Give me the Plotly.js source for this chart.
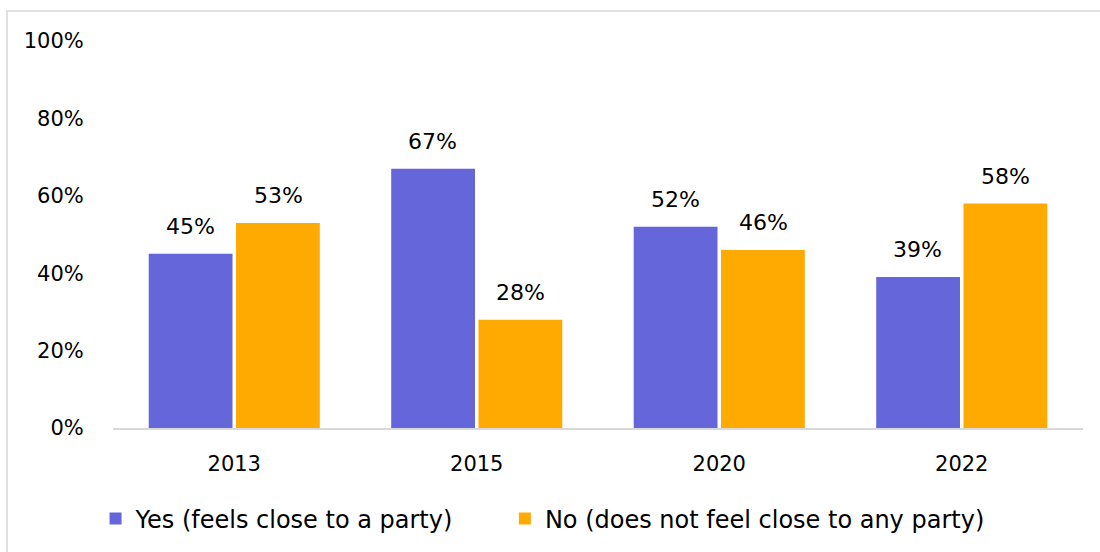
<!DOCTYPE html>
<html>
<head>
<meta charset="utf-8">
<script src="https://cdn.plot.ly/plotly-3.0.1.min.js"></script>
<style>
  html, body { margin: 0; padding: 0; background: #fff; }
  #wrap { position: relative; width: 1100px; height: 552px; overflow: hidden; }
  #frame { position: absolute; left: 6px; top: 10px; width: 1200px; height: 700px; border: 2px solid #e0e0e0; box-sizing: border-box; }
  #chart { position: absolute; left: 0; top: 0; width: 1100px; height: 552px; }
</style>
</head>
<body>
<div id="wrap">
  <div id="frame"></div>
  <div id="chart"></div>
</div>
<script>
const years = ['2013', '2015', '2020', '2022'];
const yesValues = [45, 67, 52, 39];
const noValues = [53, 28, 46, 58];
const yesName = 'Yes (feels close to a party)';
const noName = 'No (does not feel close to any party)';
const yTickVals = [0, 20, 40, 60, 80, 100];
const yTickText = ['0%', '20%', '40%', '60%', '80%', '100%'];

const FONT = 'Century Gothic, DejaVu Sans, sans-serif';
const YES_COLOR = '#6666DB';
const NO_COLOR = '#FFAA00';

const traces = [
  { type: 'bar', name: yesName, x: years, y: yesValues, marker: { color: YES_COLOR }, hoverinfo: 'skip', legend: 'legend' },
  { type: 'bar', name: noName, x: years, y: noValues, marker: { color: NO_COLOR }, hoverinfo: 'skip', legend: 'legend2' }
];

const annotations = [];
years.forEach((yr, i) => {
  annotations.push({ x: i, y: yesValues[i], xref: 'x', yref: 'y', text: yesValues[i] + '%', showarrow: false,
    xshift: -44, yshift: 13, yanchor: 'bottom', font: { family: FONT, size: 22, color: '#000' } });
  annotations.push({ x: i, y: noValues[i], xref: 'x', yref: 'y', text: noValues[i] + '%', showarrow: false,
    xshift: 44, yshift: 13, yanchor: 'bottom', font: { family: FONT, size: 22, color: '#000' } });
});

const legendBase = { orientation: 'h', xanchor: 'left', y: -0.232, yanchor: 'middle',
  font: { family: FONT, size: 24, color: '#000' }, itemwidth: 30, bgcolor: 'rgba(0,0,0,0)' };

const layout = {
  width: 1100, height: 552,
  margin: { l: 113, r: 17, t: 41, b: 123 },
  paper_bgcolor: 'rgba(0,0,0,0)', plot_bgcolor: 'rgba(0,0,0,0)',
  font: { family: FONT, size: 21, color: '#000' },
  barmode: 'group', bargap: 0.28, bargroupgap: 0.04,
  showlegend: true,
  legend: Object.assign({}, legendBase, { x: -0.018 }),
  legend2: Object.assign({}, legendBase, { x: 0.404 }),
  xaxis: { type: 'category', autorange: false, range: [-0.5, years.length - 0.5],
           showline: true, linecolor: '#d9d9d9', linewidth: 2, showgrid: false,
           ticks: 'outside', ticklen: 16, tickcolor: 'rgba(0,0,0,0)', tickfont: { size: 21 }, zeroline: false },
  yaxis: { range: [0, 100], tickvals: yTickVals, ticktext: yTickText, showgrid: false, zeroline: false,
           showline: false, ticks: 'outside', ticklen: 24, tickcolor: 'rgba(0,0,0,0)', tickfont: { size: 21 } },
  annotations: annotations
};

Plotly.newPlot('chart', traces, layout, { staticPlot: true, displayModeBar: false });
</script>
</body>
</html>
